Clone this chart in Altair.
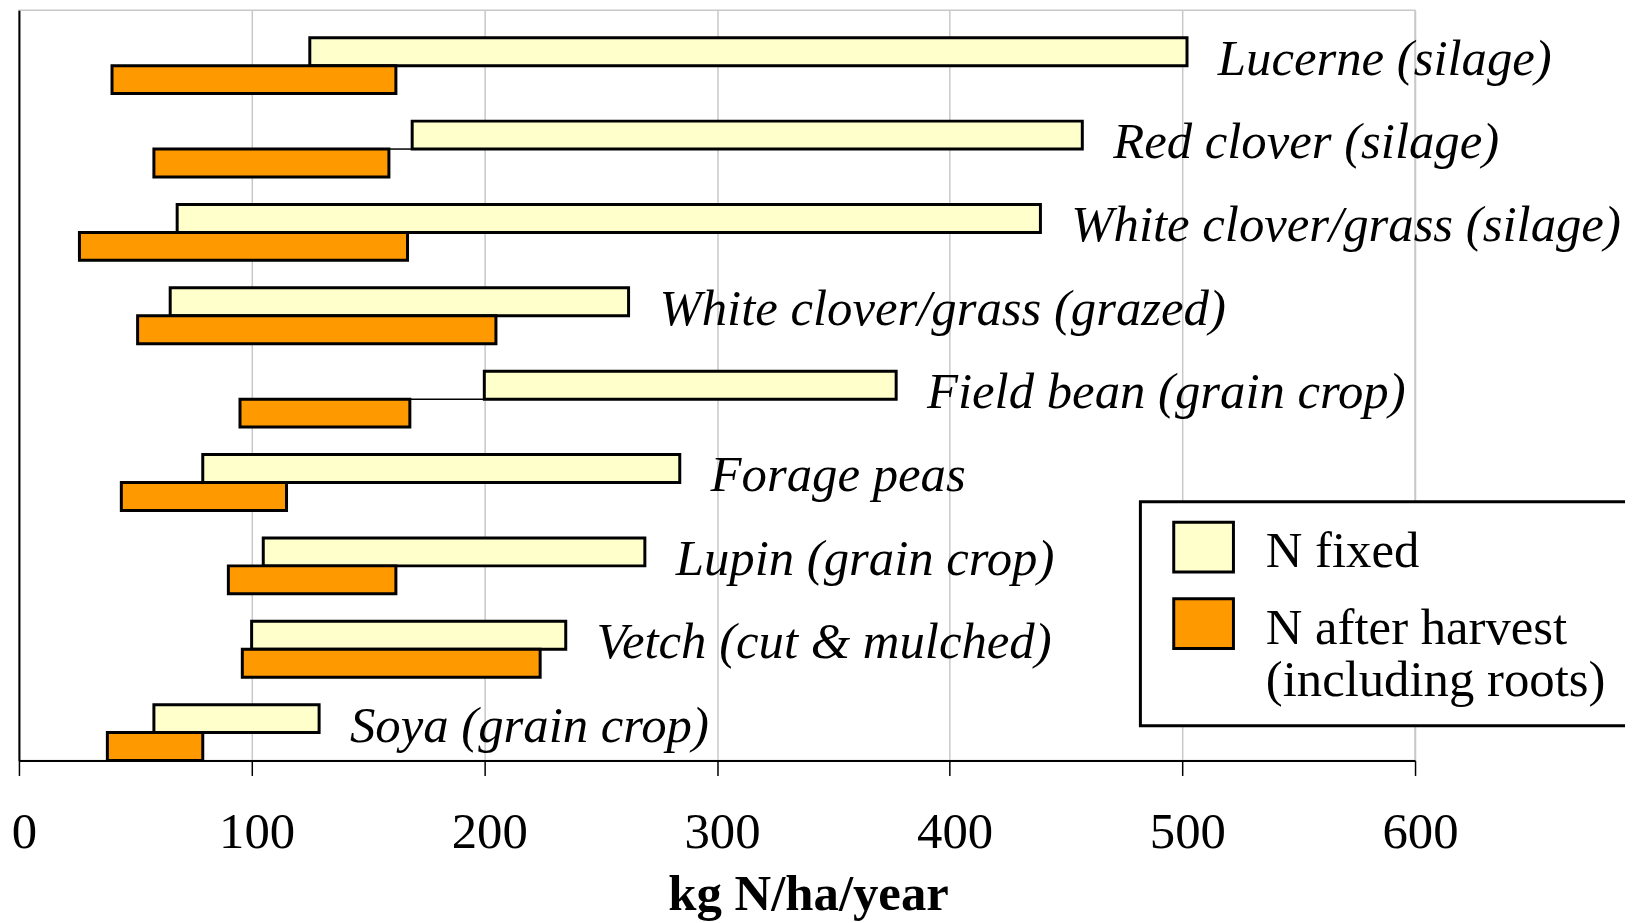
import altair as alt
import pandas as pd

crops = [
    "Lucerne (silage)",
    "Red clover (silage)",
    "White clover/grass (silage)",
    "White clover/grass (grazed)",
    "Field bean (grain crop)",
    "Forage peas",
    "Lupin (grain crop)",
    "Vetch (cut & mulched)",
    "Soya (grain crop)",
]
fixed_low = [125, 169, 68, 65, 200, 79, 105, 100, 58]
fixed_high = [502, 457, 439, 262, 377, 284, 269, 235, 129]
after_low = [40, 58, 26, 51, 95, 44, 90, 96, 38]
after_high = [162, 159, 167, 205, 168, 115, 162, 224, 79]

series = ["N fixed", "N after harvest"]
colors = ["#FFFFCC", "#FF9900"]
x_ticks = [0, 100, 200, 300, 400, 500, 600]

rows = []
for i, c in enumerate(crops):
    rows.append({"crop": c, "series": series[0], "low": fixed_low[i], "high": fixed_high[i]})
    rows.append({"crop": c, "series": series[1], "low": after_low[i], "high": after_high[i]})
bars_df = pd.DataFrame(rows)
wide_df = pd.DataFrame({
    "crop": crops,
    "fixed_low": fixed_low,
    "fixed_high": fixed_high,
    "after_low": after_low,
    "after_high": after_high,
})

FONT = "Liberation Serif"
TITLE = "kg N/ha/year"
PAD = "\u00a0" + "\u200b"

xscale = alt.Scale(domain=[0, 600], nice=False)
yscale = alt.Scale(paddingInner=0.33, paddingOuter=0.165, align=1)

xaxis = alt.Axis(
    values=x_ticks, grid=True, gridColor="#c8c8c8", gridWidth=1.5,
    domainColor="black", domainWidth=2, tickColor="black", tickWidth=1.5, tickSize=15,
    labelFont=FONT, labelFontSize=51, labelColor="black", labelPadding=32,
    labelFlush=False, labelOverlap=False, labelOffset=5,
    title=TITLE, titleFont=FONT, titleFontSize=51, titleFontWeight="bold",
    titleColor="black", titleX=793, titleY=150, titleBaseline="alphabetic", titleAlign="center",
)
yaxis = alt.Axis(title=None, labels=False, ticks=False, grid=False,
                 domainColor="black", domainWidth=2)

legend = alt.Legend(
    title=None, orient="none", legendX=1127, legendY=494,
    symbolType="M-1,-1H1V0.667H-1Z", symbolSize=3600,
    symbolStrokeColor="black", symbolStrokeWidth=3, symbolOffset=13,
    labelOffset=31, labelFont=FONT, labelFontSize=51, labelColor="black",
    labelBaseline="middle", labelLimit=800,
    labelExpr="datum.label == 'N after harvest' ? ['N after harvest', '(including roots)" + PAD + "'] : datum.label",
    padding=19, fillColor="white", strokeColor="black", rowPadding=14,
)

conn = alt.Chart(wide_df).mark_rule(color="black", strokeWidth=1.5).encode(
    x=alt.X("after_high:Q", scale=xscale, axis=xaxis, title=TITLE),
    x2="fixed_low:Q",
    y=alt.Y("crop:N", sort=crops, scale=yscale, axis=yaxis),
)

bars = alt.Chart(bars_df).mark_bar(stroke="black", strokeWidth=3, cornerRadius=0).encode(
    x=alt.X("low:Q", scale=xscale, axis=xaxis, title=TITLE),
    x2="high:Q",
    y=alt.Y("crop:N", sort=crops, scale=yscale, axis=yaxis),
    yOffset=alt.YOffset("series:N", sort=series,
                        scale=alt.Scale(domain=series, paddingInner=0, paddingOuter=0)),
    color=alt.Color("series:N", scale=alt.Scale(domain=series, range=colors), legend=legend),
)

labels = alt.Chart(wide_df).mark_text(
    align="left", baseline="middle", dx=31, dy=-6,
    font=FONT, fontSize=51, fontStyle="italic", color="black",
).encode(
    x=alt.X("fixed_high:Q", scale=xscale, axis=xaxis, title=TITLE),
    y=alt.Y("crop:N", sort=crops, scale=yscale, axis=yaxis),
    text="crop:N",
)

chart = alt.layer(conn, bars, labels).properties(
    width=1403, height=754,
    padding={"left": 11, "top": 0, "right": 211, "bottom": 159},
    autosize=alt.AutoSizeParams(type="none"),
).configure(font=FONT).configure_view(
    stroke="#c8c8c8", strokeWidth=1.5
).configure_legend(strokeWidth=3)

chart.save("out.html", embed_options={"renderer": "svg", "actions": False})
